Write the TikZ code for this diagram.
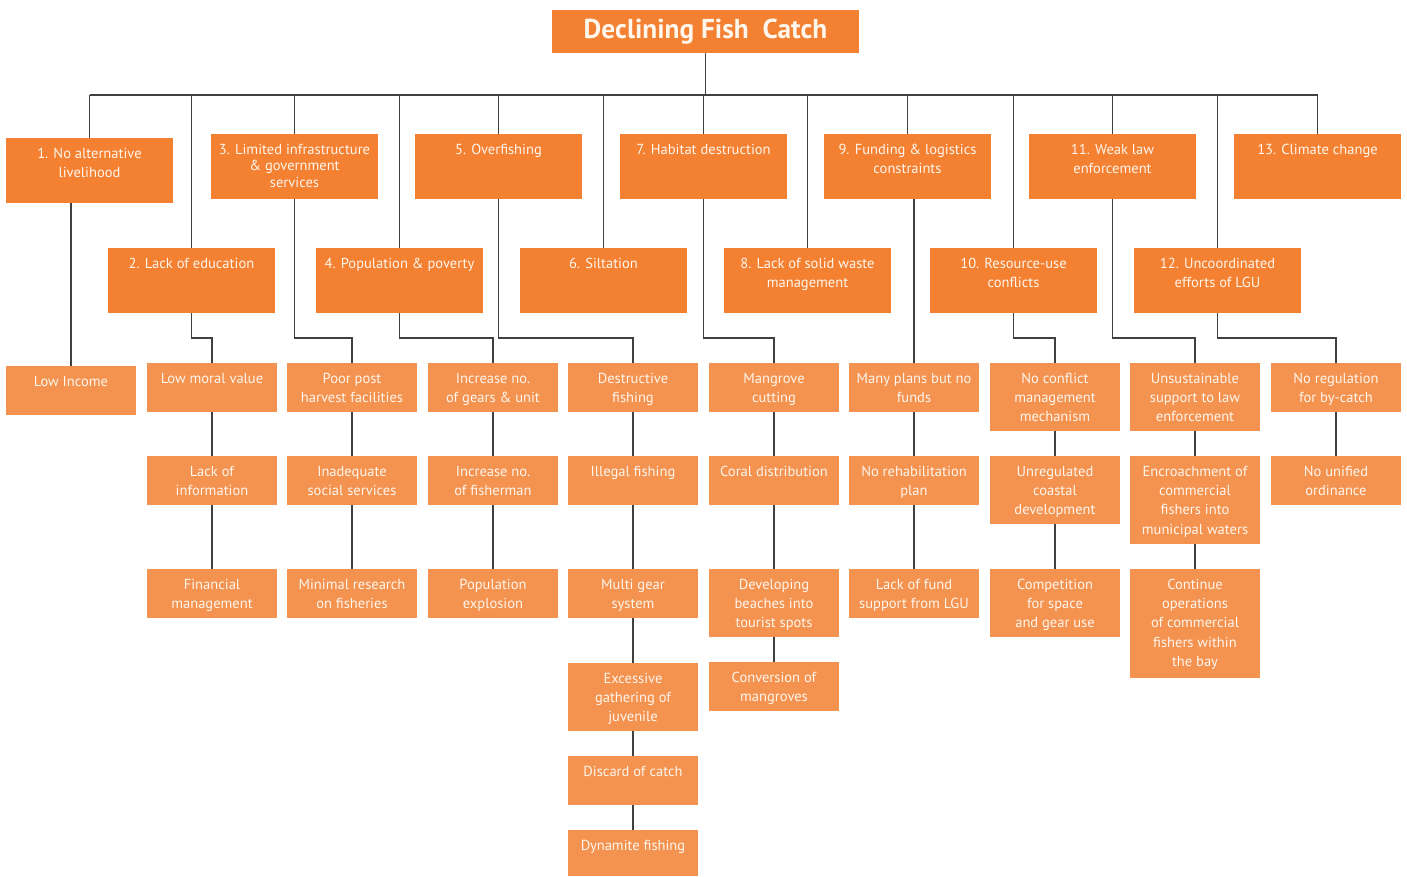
\documentclass[tikz,border=0pt]{standalone}
\usepackage{fontspec}
\setmainfont{PT Sans}
\usetikzlibrary{calc}

\definecolor{rootorange}{HTML}{F48032}
\definecolor{suborange}{HTML}{F49250}
\definecolor{boxtext}{HTML}{FFF6EC}

\newlength\px
\setlength\px{0.75pt}
% box text: fixed size, top aligned
\newcommand{\cell}[3]{\parbox[t][#2\px][t]{#1\px}{\centering\rule{0pt}{20\px}#3}}

\tikzset{
  root/.style={fill=rootorange, text=boxtext, inner sep=0pt, outer sep=0pt,
    minimum width=230.25pt, minimum height=32.25pt,
    font=\bfseries\fontsize{20.5pt}{24pt}\selectfont},
  cause/.style={fill=rootorange, text=boxtext, inner sep=0pt, outer sep=0pt,
    anchor=north west, font=\fontsize{10.9pt}{14.6pt}\selectfont},
  effect/.style={cause, fill=suborange},
  link/.style={draw=black!75, line width=0.9pt}
}

\begin{document}
\begin{tikzpicture}[x=0.75pt, y=-0.75pt]
  \useasboundingbox (0,0) rectangle (1407,876);
  \coordinate (bus) at (0,95);

  \node[root] (title) at (705.5,31.5) {Declining Fish\ \ Catch};

  % main causes
  \node[cause] (n1) at (6,138) {\cell{167}{65}{1. No alternative\\livelihood}};
  \node[cause, font=\fontsize{10.9pt}{12.6pt}\selectfont] (n3) at (211,134) {\cell{167}{65}{3. Limited infrastructure\\\& government\\services}};
  \node[cause] (n5) at (415,134) {\cell{167}{65}{5. Overfishing}};
  \node[cause] (n7) at (620,134) {\cell{167}{65}{7. Habitat destruction}};
  \node[cause] (n9) at (824,134) {\cell{167}{65}{9. Funding \& logistics\\constraints}};
  \node[cause] (n11) at (1029,134) {\cell{167}{65}{11. Weak law\\enforcement}};
  \node[cause] (n13) at (1234,134) {\cell{167}{65}{13. Climate change}};

  \node[cause] (n2) at (108,248) {\cell{167}{65}{2. Lack of education}};
  \node[cause] (n4) at (316,248) {\cell{167}{65}{4. Population \& poverty}};
  \node[cause] (n6) at (520,248) {\cell{167}{65}{6. Siltation}};
  \node[cause] (n8) at (724,248) {\cell{167}{65}{8. Lack of solid waste\\management}};
  \node[cause] (n10) at (930,248) {\cell{167}{65}{10. Resource-use\\conflicts}};
  \node[cause] (n12) at (1134,248) {\cell{167}{65}{12. Uncoordinated\\efforts of LGU}};

  % sub causes
  \node[effect] (lowinc) at (6,366) {\cell{130}{49}{Low Income}};

  \node[effect] (lmv) at (147,363) {\cell{130}{49}{Low moral value}};
  \node[effect] (lackinfo) at (147,456) {\cell{130}{49}{Lack of\\information}};
  \node[effect] (finman) at (147,569) {\cell{130}{49}{Financial\\management}};

  \node[effect] (ppost) at (287,363) {\cell{130}{49}{Poor post\\harvest facilities}};
  \node[effect] (inadeq) at (287,456) {\cell{130}{49}{Inadequate\\social services}};
  \node[effect] (minres) at (287,569) {\cell{130}{49}{Minimal research\\on fisheries}};

  \node[effect] (incgear) at (428,363) {\cell{130}{49}{Increase no.\\of gears \& unit}};
  \node[effect] (incfish) at (428,456) {\cell{130}{49}{Increase no.\\of fisherman}};
  \node[effect] (popexp) at (428,569) {\cell{130}{49}{Population\\explosion}};

  \node[effect] (destr) at (568,363) {\cell{130}{49}{Destructive\\fishing}};
  \node[effect] (illegal) at (568,456) {\cell{130}{49}{Illegal fishing}};
  \node[effect] (multi) at (568,569) {\cell{130}{49}{Multi gear\\system}};
  \node[effect] (juven) at (568,663) {\cell{130}{68}{Excessive\\gathering of\\juvenile}};
  \node[effect] (discard) at (568,756) {\cell{130}{49}{Discard of catch}};
  \node[effect] (dynam) at (568,830) {\cell{130}{46}{Dynamite fishing}};

  \node[effect] (mangr) at (709,363) {\cell{130}{49}{Mangrove\\cutting}};
  \node[effect] (coral) at (709,456) {\cell{130}{49}{Coral distribution}};
  \node[effect] (beach) at (709,569) {\cell{130}{68}{Developing\\beaches into\\tourist spots}};
  \node[effect] (convm) at (709,662) {\cell{130}{49}{Conversion of\\mangroves}};

  \node[effect] (many) at (849,363) {\cell{130}{49}{Many plans but no\\funds}};
  \node[effect] (norehab) at (849,456) {\cell{130}{49}{No rehabilitation\\plan}};
  \node[effect] (lackfund) at (849,569) {\cell{130}{49}{Lack of fund\\support from LGU}};

  \node[effect] (noconf) at (990,363) {\cell{130}{68}{No conflict\\management\\mechanism}};
  \node[effect] (unreg) at (990,456) {\cell{130}{68}{Unregulated\\coastal\\development}};
  \node[effect] (compet) at (990,569) {\cell{130}{68}{Competition\\for space\\and gear use}};

  \node[effect] (unsus) at (1130,363) {\cell{130}{68}{Unsustainable\\support to law\\enforcement}};
  \node[effect] (encr) at (1130,456) {\cell{130}{88}{Encroachment of\\commercial\\fishers into\\municipal waters}};
  \node[effect] (contop) at (1130,569) {\cell{130}{109}{Continue\\operations\\of commercial\\fishers within\\the bay}};

  \node[effect] (noreg) at (1271,363) {\cell{130}{49}{No regulation\\for by-catch}};
  \node[effect] (nounif) at (1271,456) {\cell{130}{49}{No unified\\ordinance}};

  % connectors
  \draw[link] (title.south) -- (title.south |- bus);
  \draw[link] (n1.north |- bus) -- (n13.north |- bus);
  \foreach \n in {n1,n2,n3,n4,n5,n6,n7,n8,n9,n10,n11,n12,n13}
    \draw[link] (\n.north |- bus) -- (\n.north);

  \draw[link] (n1.south -| lowinc.north) -- (lowinc.north);
  \draw[link] (n9.south -| many.north) -- (many.north);
  \foreach \p/\c in {n2/lmv, n3/ppost, n4/incgear, n5/destr, n7/mangr, n10/noconf, n11/unsus, n12/noreg}
    \draw[link] (\p.south) |- ($(\c.north)+(0,-25)$) -| (\c.north);

  \foreach \a/\b in {lmv/lackinfo, lackinfo/finman, ppost/inadeq, inadeq/minres,
      incgear/incfish, incfish/popexp, destr/illegal, illegal/multi, multi/juven,
      juven/discard, discard/dynam, mangr/coral, coral/beach, beach/convm,
      many/norehab, norehab/lackfund, noconf/unreg, unreg/compet,
      unsus/encr, encr/contop, noreg/nounif}
    \draw[link] (\a.south) -- (\b.north);
\end{tikzpicture}
\end{document}
